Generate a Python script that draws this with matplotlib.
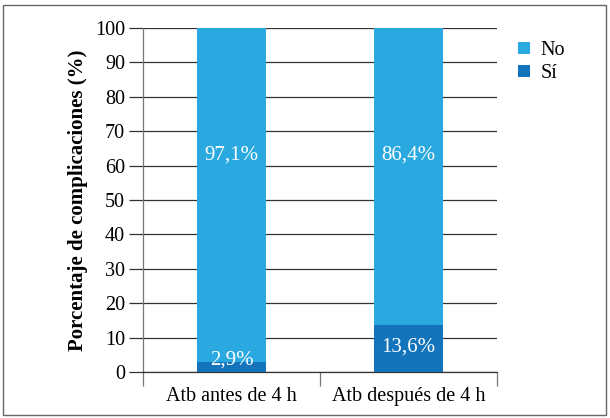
import matplotlib
matplotlib.use("Agg")
import matplotlib.pyplot as plt
from matplotlib.patches import Rectangle
import numpy as np

groups = ["Atb antes de 4 h", "Atb después de 4 h"]
si_pct = [2.9, 13.6]
no_pct = [97.1, 86.4]
si_labels = ["2,9%", "13,6%"]
no_labels = ["97,1%", "86,4%"]

C_NO = "#29a9e0"
C_SI = "#1474bb"
GRID = "#333333"

plt.rcParams["font.family"] = ["Liberation Serif", "DejaVu Serif"]

fig = plt.figure(figsize=(6.1, 4.18), dpi=100)
ax = fig.add_axes([143 / 610, 1 - 372 / 418, 354 / 610, 344 / 418])

x = np.arange(len(groups))
w = 0.385
ax.bar(x, si_pct, w, color=C_SI, label="Sí", zorder=3)
ax.bar(x, no_pct, w, bottom=si_pct, color=C_NO, label="No", zorder=3)

label_y_si = [3.5, 7.3]
for i in range(len(groups)):
    ax.text(x[i], 63, no_labels[i], ha="center", va="center", color="white", fontsize=15, zorder=4)
    ax.text(x[i], label_y_si[i], si_labels[i], ha="center", va="center", color="white", fontsize=15, zorder=4)

ax.set_xlim(-0.5, 1.5)
ax.set_ylim(0, 100)
ax.set_yticks(np.arange(0, 101, 10))
ax.yaxis.grid(True, color=GRID, linewidth=0.9, zorder=0)
ax.set_axisbelow(True)
ax.tick_params(axis="y", length=10, width=0.9, color=GRID, labelsize=14.5, pad=3)
ax.set_xticks([-0.5, 0.5, 1.5], minor=False)
ax.set_xticklabels([])
ax.set_xticks(x, minor=True)
ax.set_xticklabels(groups, minor=True, fontsize=14.5)
ax.tick_params(axis="x", which="major", length=10, width=0.9, color="#777777")
ax.tick_params(axis="x", which="minor", length=0, pad=11)

for s in ["top", "right"]:
    ax.spines[s].set_visible(False)
ax.spines["left"].set_color("#777777")
ax.spines["bottom"].set_color(GRID)
ax.spines["left"].set_linewidth(0.9)
ax.spines["bottom"].set_linewidth(0.9)

ax.set_ylabel("Porcentaje de complicaciones (%)", fontsize=15, fontweight="bold", labelpad=5)

handles, labels = ax.get_legend_handles_labels()
fig.legend(handles[::-1], labels[::-1], loc="upper left", bbox_to_anchor=(500 / 610, 1 - 23 / 418),
           frameon=False, fontsize=14.5, handlelength=0.6, handleheight=0.6,
           handletextpad=0.5, labelspacing=0.2)

fig.patches.append(Rectangle((3 / 610, 3 / 418), 603 / 610, 410 / 418, transform=fig.transFigure,
                             fill=False, edgecolor="#666666", linewidth=1.0))

fig.savefig("out.png", dpi=100)
